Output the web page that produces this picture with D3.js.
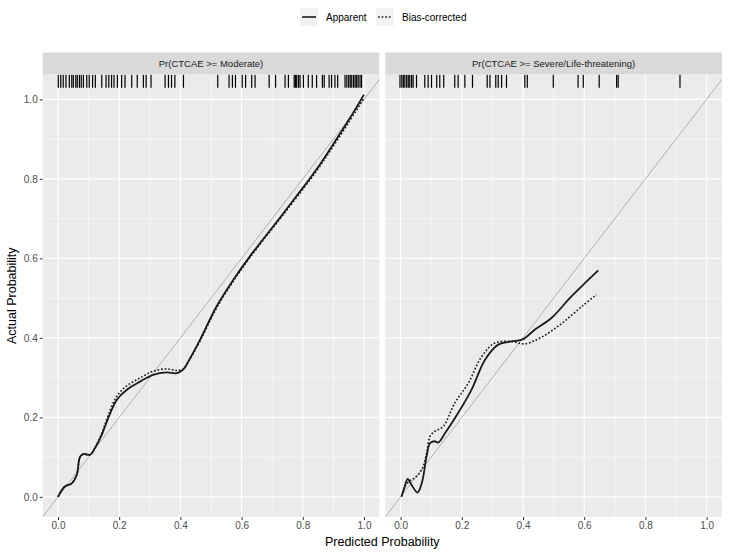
<!DOCTYPE html>
<html>
<head>
<meta charset="utf-8">
<script src="https://cdn.jsdelivr.net/npm/d3@7"></script>
<style>
  body { margin: 0; background: #fff; }
  svg { display: block; font-family: "Liberation Sans", Arial, sans-serif; }
</style>
</head>
<body>
<div id="wrapper"></div>
<script>
// # Data
const panelTitles = ["Pr(CTCAE >= Moderate)", "Pr(CTCAE >= Severe/Life-threatening)"];
const seriesNames = ["Apparent", "Bias-corrected"];
const tickValues = [0, 0.2, 0.4, 0.6, 0.8, 1.0];

// Moderate panel
const modApparentX = [0, 0.022, 0.045, 0.061, 0.072, 0.083, 0.105, 0.121, 0.143, 0.164, 0.192, 0.224, 0.268, 0.311, 0.355, 0.387, 0.409, 0.426, 0.464, 0.518, 0.573, 0.627, 0.736, 0.845, 0.9, 0.95, 1.0];
const modApparentY = [0, 0.026, 0.034, 0.055, 0.101, 0.108, 0.106, 0.123, 0.156, 0.198, 0.244, 0.269, 0.290, 0.307, 0.313, 0.311, 0.320, 0.341, 0.395, 0.479, 0.546, 0.605, 0.713, 0.824, 0.888, 0.948, 1.012];
const modBiasX = [0, 0.022, 0.045, 0.061, 0.072, 0.083, 0.105, 0.121, 0.143, 0.164, 0.192, 0.224, 0.268, 0.311, 0.355, 0.387, 0.409, 0.426, 0.464, 0.518, 0.573, 0.627, 0.736, 0.845, 0.9, 0.95, 1.0];
const modBiasY = [0, 0.025, 0.034, 0.054, 0.099, 0.107, 0.106, 0.124, 0.160, 0.205, 0.253, 0.279, 0.299, 0.316, 0.322, 0.318, 0.322, 0.340, 0.392, 0.475, 0.543, 0.602, 0.710, 0.820, 0.883, 0.942, 1.003];
const modRug = [0.001, 0.009, 0.017, 0.026, 0.037, 0.045, 0.05, 0.058, 0.063, 0.07, 0.076, 0.083, 0.094, 0.102, 0.113, 0.122, 0.143, 0.157, 0.166, 0.175, 0.183, 0.194, 0.208, 0.219, 0.241, 0.259, 0.279, 0.288, 0.304, 0.350, 0.361, 0.371, 0.382, 0.410,
  0.522, 0.559, 0.570, 0.580, 0.602, 0.613, 0.633, 0.644, 0.690, 0.711, 0.742, 0.753, 0.772, 0.776, 0.780, 0.786, 0.791, 0.802, 0.818, 0.831, 0.845, 0.864, 0.870, 0.886, 0.894, 0.905, 0.914, 0.938, 0.944, 0.950, 0.955, 0.960, 0.966, 0.971, 0.976, 0.981, 0.987, 0.992];

// Severe/Life-threatening panel
const sevApparentX = [0.003, 0.012, 0.023, 0.036, 0.055, 0.069, 0.085, 0.096, 0.110, 0.123, 0.145, 0.188, 0.232, 0.276, 0.319, 0.363, 0.401, 0.439, 0.493, 0.559, 0.646];
const sevApparentY = [0.001, 0.022, 0.045, 0.030, 0.011, 0.034, 0.102, 0.135, 0.140, 0.137, 0.160, 0.211, 0.270, 0.345, 0.383, 0.391, 0.397, 0.421, 0.450, 0.505, 0.570];
const sevBiasX = [0.003, 0.015, 0.030, 0.050, 0.070, 0.085, 0.096, 0.112, 0.139, 0.177, 0.221, 0.265, 0.308, 0.363, 0.406, 0.461, 0.526, 0.592, 0.640];
const sevBiasY = [0.001, 0.028, 0.040, 0.050, 0.070, 0.110, 0.152, 0.165, 0.177, 0.236, 0.286, 0.353, 0.387, 0.391, 0.385, 0.402, 0.436, 0.479, 0.509];
const sevRug = [-0.002, 0.004, 0.009, 0.014, 0.02, 0.025, 0.03, 0.036, 0.041, 0.052, 0.079, 0.09, 0.101, 0.118, 0.128, 0.141, 0.177, 0.188, 0.21, 0.235,
  0.283, 0.292, 0.311, 0.319, 0.33, 0.346, 0.406, 0.414, 0.499, 0.58, 0.597, 0.649, 0.706, 0.711, 0.913];

const zip = (xs, ys) => xs.map((x, i) => ({ x, y: ys[i] }));
const panels = [
  { title: panelTitles[0], apparent: zip(modApparentX, modApparentY), bias: zip(modBiasX, modBiasY), rug: modRug },
  { title: panelTitles[1], apparent: zip(sevApparentX, sevApparentY), bias: zip(sevBiasX, sevBiasY), rug: sevRug },
];

// # Dimensions
const dimensions = {
  width: 729,
  height: 557,
  panelLeft: 42.7,
  panelWidth: 336.6,
  panelGap: 6,
  panelTop: 74.5,
  panelBottom: 517,
  stripHeight: 22,
};

const svg = d3.select("#wrapper")
  .append("svg")
  .attr("width", dimensions.width)
  .attr("height", dimensions.height);

// # Scales (shared, with ggplot-like 5% expansion)
const allY = panels.flatMap(p => p.apparent.concat(p.bias).map(d => d.y)).concat([0]);
const yMin = d3.min(allY), yMax = d3.max(allY);
const yPad = (yMax - yMin) * 0.05;
const yScale = d3.scaleLinear()
  .domain([yMin - yPad, yMax + yPad])
  .range([dimensions.panelBottom, dimensions.panelTop]);

const panelHeight = dimensions.panelBottom - dimensions.panelTop;

panels.forEach((panel, i) => {
  const x0 = dimensions.panelLeft + i * (dimensions.panelWidth + dimensions.panelGap);
  const xScale = d3.scaleLinear()
    .domain([-0.05, 1.05])
    .range([x0, x0 + dimensions.panelWidth]);

  const g = svg.append("g");

  // panel background
  g.append("rect")
    .attr("x", x0).attr("y", dimensions.panelTop)
    .attr("width", dimensions.panelWidth).attr("height", panelHeight)
    .attr("fill", "#EBEBEB");

  const clipId = "clip" + i;
  svg.append("clipPath").attr("id", clipId)
    .append("rect")
    .attr("x", x0).attr("y", dimensions.panelTop)
    .attr("width", dimensions.panelWidth).attr("height", panelHeight);

  // grid: minor then major
  const minor = [0.1, 0.3, 0.5, 0.7, 0.9];
  g.selectAll(".vminor").data(minor).join("line")
    .attr("x1", d => xScale(d)).attr("x2", d => xScale(d))
    .attr("y1", dimensions.panelTop).attr("y2", dimensions.panelBottom)
    .attr("stroke", "#fff").attr("stroke-width", 0.55);
  g.selectAll(".hminor").data(minor).join("line")
    .attr("y1", d => yScale(d)).attr("y2", d => yScale(d))
    .attr("x1", x0).attr("x2", x0 + dimensions.panelWidth)
    .attr("stroke", "#fff").attr("stroke-width", 0.55);
  g.selectAll(".vmajor").data(tickValues).join("line")
    .attr("x1", d => xScale(d)).attr("x2", d => xScale(d))
    .attr("y1", dimensions.panelTop).attr("y2", dimensions.panelBottom)
    .attr("stroke", "#fff").attr("stroke-width", 1.1);
  g.selectAll(".hmajor").data(tickValues).join("line")
    .attr("y1", d => yScale(d)).attr("y2", d => yScale(d))
    .attr("x1", x0).attr("x2", x0 + dimensions.panelWidth)
    .attr("stroke", "#fff").attr("stroke-width", 1.1);

  const inner = g.append("g").attr("clip-path", `url(#${clipId})`);

  // reference diagonal
  inner.append("line")
    .attr("x1", xScale(-0.05)).attr("y1", yScale(-0.05))
    .attr("x2", xScale(1.1)).attr("y2", yScale(1.1))
    .attr("stroke", "#A8A8A8").attr("stroke-width", 0.9);

  // rug along top
  inner.selectAll(".rug").data(panel.rug).join("line")
    .attr("x1", d => xScale(d)).attr("x2", d => xScale(d))
    .attr("y1", dimensions.panelTop).attr("y2", dimensions.panelTop + panelHeight * 0.03)
    .attr("stroke", "#000").attr("stroke-width", 1.2);

  const line = d3.line()
    .x(d => xScale(d.x)).y(d => yScale(d.y))
    .curve(d3.curveCatmullRom.alpha(0.5));

  inner.append("path").datum(panel.bias)
    .attr("d", line).attr("fill", "none")
    .attr("stroke", "#1a1a1a").attr("stroke-width", 1.6)
    .attr("stroke-dasharray", "1.7,1.9");
  inner.append("path").datum(panel.apparent)
    .attr("d", line).attr("fill", "none")
    .attr("stroke", "#1a1a1a").attr("stroke-width", 1.8);

  // strip
  g.append("rect")
    .attr("x", x0).attr("y", dimensions.panelTop - dimensions.stripHeight)
    .attr("width", dimensions.panelWidth).attr("height", dimensions.stripHeight)
    .attr("fill", "#D9D9D9");
  g.append("text")
    .attr("x", x0 + dimensions.panelWidth / 2)
    .attr("y", dimensions.panelTop - dimensions.stripHeight / 2)
    .attr("dy", "0.35em")
    .attr("text-anchor", "middle")
    .attr("fill", "#1A1A1A")
    .style("font-size", "9.5px")
    .text(panel.title);

  // x axis
  const xAxis = g.append("g")
    .attr("transform", `translate(0,${dimensions.panelBottom})`)
    .call(d3.axisBottom(xScale).tickValues(tickValues).tickFormat(d3.format(".1f")).tickSize(3).tickPadding(2));
  xAxis.select(".domain").remove();
  xAxis.selectAll(".tick line").attr("stroke", "#333").attr("stroke-width", 1);
  xAxis.selectAll(".tick text").attr("fill", "#4D4D4D").style("font-size", "10px")
    .style("font-family", "'Liberation Sans', Arial, sans-serif");

  if (i === 0) {
    const yAxis = g.append("g")
      .attr("transform", `translate(${x0},0)`)
      .call(d3.axisLeft(yScale).tickValues(tickValues).tickFormat(d3.format(".1f")).tickSize(3).tickPadding(2));
    yAxis.select(".domain").remove();
    yAxis.selectAll(".tick line").attr("stroke", "#333").attr("stroke-width", 1);
    yAxis.selectAll(".tick text").attr("fill", "#4D4D4D").style("font-size", "10px")
      .style("font-family", "'Liberation Sans', Arial, sans-serif");
  }
});

// # Axis titles
svg.append("text")
  .attr("x", (dimensions.panelLeft + dimensions.panelLeft + 2 * dimensions.panelWidth + dimensions.panelGap) / 2)
  .attr("y", 546)
  .attr("text-anchor", "middle")
  .attr("fill", "#000")
  .style("font-size", "12.5px")
  .text("Predicted Probability");

svg.append("text")
  .attr("transform", `translate(16,${(dimensions.panelTop + dimensions.panelBottom) / 2}) rotate(-90)`)
  .attr("text-anchor", "middle")
  .attr("fill", "#000")
  .style("font-size", "12.5px")
  .text("Actual Probability");

// # Legend
const legend = svg.append("g").attr("transform", "translate(300,8)");
const legendItems = [
  { name: seriesNames[0], dash: null, x: 0 },
  { name: seriesNames[1], dash: "1.7,1.9", x: 76 },
];
legendItems.forEach(item => {
  const lg = legend.append("g").attr("transform", `translate(${item.x},0)`);
  lg.append("rect").attr("width", 18).attr("height", 18).attr("fill", "#F2F2F2");
  lg.append("line").attr("x1", 2).attr("x2", 16).attr("y1", 9).attr("y2", 9)
    .attr("stroke", "#1a1a1a").attr("stroke-width", 1.6)
    .attr("stroke-dasharray", item.dash);
  lg.append("text").attr("x", 26).attr("y", 9).attr("dy", "0.35em")
    .attr("fill", "#000").style("font-size", "10px")
    .text(item.name);
});
</script>
</body>
</html>
